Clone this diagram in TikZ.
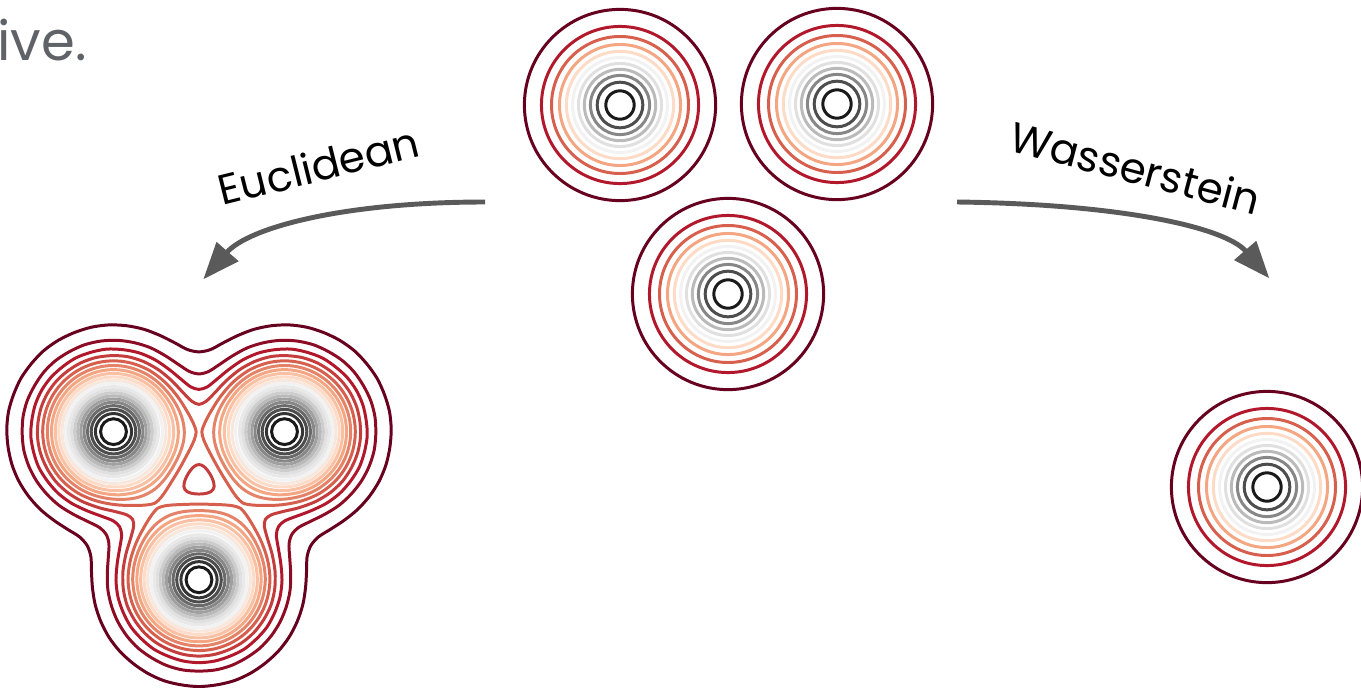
\documentclass[tikz,border=0pt]{standalone}
\usepackage{fontspec}
\setmainfont{Poppins}
\usetikzlibrary{arrows.meta}

% RdGy contour colours, low to high
\definecolor{rg0}{HTML}{67001F}
\definecolor{rg1}{HTML}{B2182B}
\definecolor{rg2}{HTML}{D6604D}
\definecolor{rg3}{HTML}{F4A582}
\definecolor{rg4}{HTML}{FDDBC7}
\definecolor{rg5}{HTML}{F2F2F2}
\definecolor{rg6}{HTML}{E0E0E0}
\definecolor{rg7}{HTML}{BABABA}
\definecolor{rg8}{HTML}{878787}
\definecolor{rg9}{HTML}{4D4D4D}
\definecolor{rg10}{HTML}{1A1A1A}
\definecolor{inkgray}{HTML}{5F6368}
\definecolor{arrowgray}{HTML}{5A5A5A}

% summed density of the three blob lobes (pixel units)
\newcommand\blobf[2]{exp(-((#1-113.5)^2+(#2-431.63)^2)/3250)+exp(-((#1-284.5)^2+(#2-431.63)^2)/3250)+exp(-((#1-199)^2+(#2-579.73)^2)/3250)}

% rays from (#1,#2), level #3, radius in [#4,#5], side #6, angle step #7 -> \pts
\newcommand\contour[7]{%
  \gdef\pts{}%
  \foreach \ang in {0,#7,...,359}{%
    \xdef\cs{\fpeval{cosd(\ang)}}\xdef\sn{\fpeval{sind(\ang)}}%
    \xdef\rlo{#4}\xdef\rhi{#5}%
    \foreach \n in {1,...,10}{%
      \xdef\rmd{\fpeval{(\rlo+\rhi)/2}}%
      \ifnum\fpeval{#6*(\blobf{(#1+\rmd*\cs)}{(#2+\rmd*\sn)}-(#3))>0}=1
        \xdef\rlo{\rmd}\else\xdef\rhi{\rmd}\fi}%
    \xdef\pts{\pts(\fpeval{round(#1+\rmd*\cs,2)},\fpeval{round(#2+\rmd*\sn,2)})}}}

\begin{document}
\begin{tikzpicture}[x=0.02cm, y=-0.02cm,
  ring/.style={line width=1.7pt},
  flow/.style={draw=arrowgray, line width=2.8pt, -{Triangle[length=21pt,width=16pt]}},
  lab/.style={font={\fontsize{24}{28}\selectfont}, inner sep=0pt, anchor=base}
]
\useasboundingbox (0,0) rectangle (1361,687);

\node[anchor=base west, inner sep=0pt, text=inkgray, font={\fontsize{31}{36}\selectfont}] (ive) at (-3,60) {ive.};

% single gaussians
\coordinate (g1) at (620,105);
\coordinate (g2) at (837,104);
\coordinate (g3) at (728,294);
\coordinate (bary) at (1267,487);
\foreach \k in {0,...,10}{
  \pgfmathsetmacro\rad{sqrt(-3250*ln(0.06+0.088*\k))}
  \foreach \c in {g1,g2,g3,bary}
    \draw[ring,rg\k] (\c) circle[radius=\rad];
}

% euclidean mixture
\coordinate (gc) at (199,481);
\coordinate (l1) at (113.5,431.63);
\coordinate (l2) at (284.5,431.63);
\coordinate (l3) at (199,579.73);
\foreach \k in {0,...,3}{
  \pgfmathtruncatemacro\ca{floor(\k/2)}\pgfmathtruncatemacro\cb{ceil(\k/2)}
  \contour{199}{481}{0.03+0.046*\k}{60}{300}{1}{5}
  \edef\cmd{\noexpand\draw[ring,rg\ca!50!rg\cb] plot[smooth cycle] coordinates {\pts};}\cmd
}
\contour{199}{481}{0.168}{0}{40}{-1}{10}
\draw[ring,rg1!50!rg2] plot[smooth cycle] coordinates {\pts};
\foreach \k in {4,...,10}{
  \pgfmathtruncatemacro\ca{floor(\k/2)}\pgfmathtruncatemacro\cb{ceil(\k/2)}
  \contour{199}{579.73}{0.03+0.046*\k}{0}{85}{1}{6}
  \edef\cmd{\noexpand\draw[ring,rg\ca!50!rg\cb] plot[smooth cycle] coordinates {\pts};}
  \foreach \t in {0,120,240}{\begin{scope}[rotate around={\t:(gc)}]\cmd\end{scope}}
}
\foreach \k in {11,...,20}{
  \pgfmathtruncatemacro\ca{floor(\k/2)}\pgfmathtruncatemacro\cb{ceil(\k/2)}
  \pgfmathsetmacro\rad{sqrt(-3250*ln(0.03+0.046*\k))}
  \foreach \c in {l1,l2,l3}
    \draw[ring,rg\ca!50!rg\cb] (\c) circle[radius=\rad];
}

% arrows and labels
\coordinate (eua) at (485,202);
\coordinate (eub) at (203.3,279.3);
\coordinate (waa) at (957,202);
\coordinate (wab) at (1269.3,278.3);
\draw[flow] (eua) .. controls +(-142.7,0) and +(45.1,-51.5) .. (eub);
\draw[flow] (waa) .. controls +(164,2) and +(-44.3,-51.1) .. (wab);
\node[lab, rotate=14] (euc) at (322.5,181) {Euclidean};
\node[lab, rotate=-14.8] (was) at (1131.5,183) {Wasserstein};
\end{tikzpicture}
\end{document}
